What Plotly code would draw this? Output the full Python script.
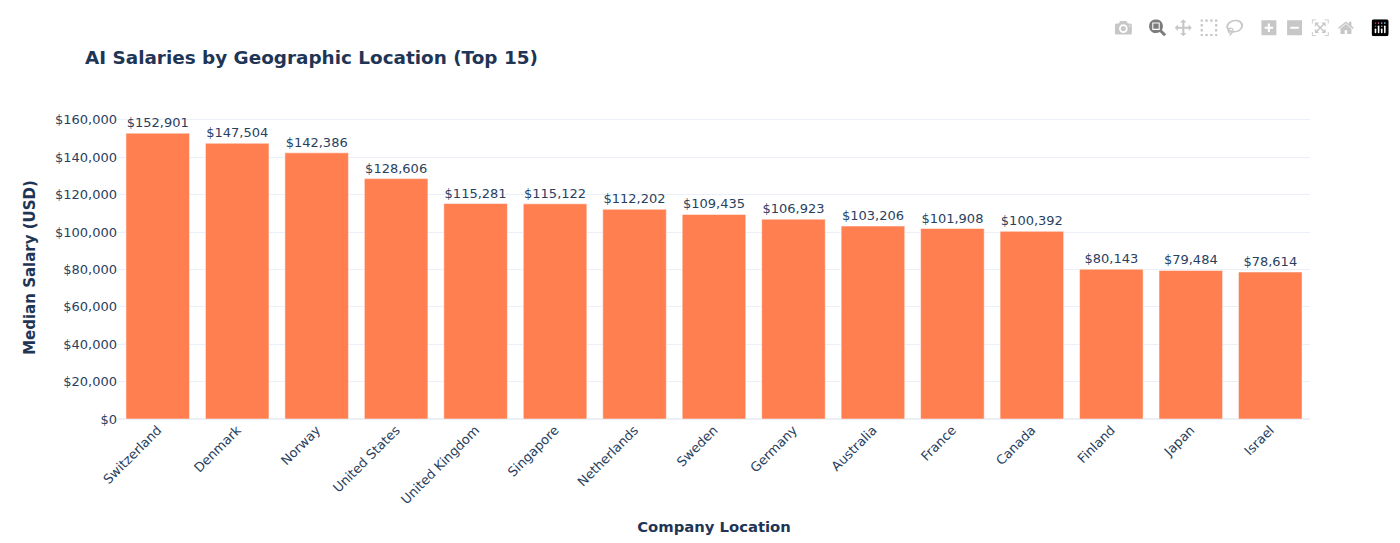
import plotly.graph_objects as go

# median salary per company location
locations = ["Switzerland", "Denmark", "Norway", "United States", "United Kingdom",
             "Singapore", "Netherlands", "Sweden", "Germany", "Australia",
             "France", "Canada", "Finland", "Japan", "Israel"]
median_salary = [152901, 147504, 142386, 128606, 115281,
                 115122, 112202, 109435, 106923, 103206,
                 101908, 100392, 80143, 79484, 78614]
y_ticks = [0, 20000, 40000, 60000, 80000, 100000, 120000, 140000, 160000]
y_tick_labels = ["$0", "$20,000", "$40,000", "$60,000", "$80,000",
                 "$100,000", "$120,000", "$140,000", "$160,000"]

FONT = "DejaVu Sans, Verdana, sans-serif"
NAVY = "#1f3556"

fig = go.Figure()
fig.add_trace(go.Bar(x=locations, y=median_salary,
                     marker_color="#FF7F50",
                     text=[f"${v:,}" for v in median_salary],
                     textposition="outside",
                     cliponaxis=False,
                     textfont=dict(size=13, color="#2a3f5f")))

# page body has an 8px margin, so the figure is 16px smaller than the window
fig.update_layout(template="plotly_white",
                  width=1384, height=527,
                  margin=dict(l=110, r=82, t=108, b=116),
                  font=dict(family=FONT, size=13),
                  showlegend=False,
                  title=dict(text="<b>AI Salaries by Geographic Location (Top 15)</b>",
                             x=77 / 1384, xanchor="left",
                             y=1 - 50 / 527, yanchor="middle",
                             font=dict(size=18.4, color=NAVY, family=FONT)))
fig.update_xaxes(tickangle=-45, tickfont=dict(size=13), automargin=False,
                 title=dict(text="<b>Company Location</b>", standoff=20,
                            font=dict(size=14.8, color=NAVY)))
# top of range a little above 160k so that gridline still gets drawn
fig.update_yaxes(range=[0, 162100], tickvals=y_ticks, ticktext=y_tick_labels,
                 tickfont=dict(size=13), automargin=False,
                 title=dict(text="<b>Median Salary (USD)</b>",
                            font=dict(size=15, color=NAVY)))

# the reference toolbar sits a bit lower and is a bit bigger than the default
toolbar_css = ("var m = document.querySelector('.modebar');"
               "m.style.transformOrigin = 'right top';"
               "m.style.transform = 'translate(3px, 6px) scale(1.07)';")

fig.write_html("out.html", post_script=toolbar_css,
               config=dict(displayModeBar=True,
                           modeBarButtonsToAdd=["select2d", "lasso2d"]))
